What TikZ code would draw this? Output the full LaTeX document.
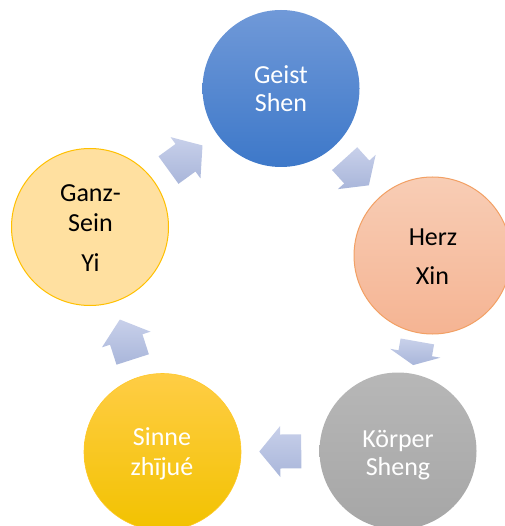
\documentclass[tikz,border=0pt]{standalone}
\usepackage{fontspec}
\setmainfont{Carlito}
\usetikzlibrary{calc}
\definecolor{arrowtop}{HTML}{C8D0EA}
\definecolor{arrowbot}{HTML}{A9B6DA}
\tikzset{
  bubble/.style={circle, minimum size=157pt, inner sep=0pt},
  txt/.style={anchor=base, inner sep=0pt, font=\fontsize{26}{28}\selectfont},
  arrowstyle/.style={top color=arrowtop, bottom color=arrowbot, draw=none}
}
\newcommand\cycarrow[4]{%
  \coordinate (#4m) at ($(#1)!0.5!(#2)$);
  \coordinate (#4b) at ($(#4m)!#3!180:(#2)$);
  \shade[arrowstyle] ($(#4b)!17pt!90:(#2)$) -- ($(#4m)!17pt!90:(#2)$) -- ($(#4m)!25.5pt!90:(#2)$) -- ($(#4m)!#3!(#2)$) -- ($(#4m)!25.5pt!-90:(#2)$) -- ($(#4m)!17pt!-90:(#2)$) -- ($(#4b)!17pt!-90:(#2)$) -- cycle;
}
\begin{document}
\begin{tikzpicture}[x=1pt,y=-1pt]
\useasboundingbox (0,0) rectangle (504,526);
% circles
\node[bubble, top color={rgb,255:red,112;green,153;blue,216}, bottom color={rgb,255:red,61;green,120;blue,201}] (geist) at (281,88.5) {};
\node[bubble, top color={rgb,255:red,248;green,205;blue,181}, bottom color={rgb,255:red,245;green,180;blue,147}, draw={rgb,255:red,242;green,160;blue,100}, line width=1pt] (herz) at (432.5,255.5) {};
\node[bubble, top color={rgb,255:red,183;green,183;blue,183}, bottom color={rgb,255:red,166;green,166;blue,166}] (koerper) at (398,451) {};
\node[bubble, top color={rgb,255:red,255;green,205;blue,69}, bottom color={rgb,255:red,242;green,194;blue,0}, draw={rgb,255:red,255;green,200;blue,40}, line width=0.6pt] (sinne) at (162.5,452) {};
\node[bubble, fill={rgb,255:red,255;green,224;blue,160}, draw={rgb,255:red,255;green,192;blue,0}, line width=1pt] (ganz) at (90,227) {};
% arrows
\cycarrow{ganz}{geist}{21pt}{aA}
\cycarrow{geist}{herz}{18pt}{aB}
\cycarrow{herz}{koerper}{12pt}{aC}
\cycarrow{koerper}{sinne}{21pt}{aD}
\cycarrow{sinne}{ganz}{21pt}{aE}
% texts
\node[txt, text=white] (t1) at (281,84) {Geist};
\node[txt, text=white] (t2) at (281,112) {Shen};
\node[txt, text=black] (t3) at (433,245) {Herz};
\node[txt, text=black] (t4) at (432.5,284) {Xin};
\node[txt, text=white] (t5) at (398,447) {Körper};
\node[txt, text=white] (t6) at (398,475) {Sheng};
\node[txt, text=white] (t7) at (162,445) {Sinne};
\node[txt, text=white] (t8) at (162,475) {zhījué};
\node[txt, text=black] (t9) at (90.5,202) {Ganz-};
\node[txt, text=black] (t10) at (90.5,231) {Sein};
\node[txt, text=black] (t11) at (90.5,271) {Yi};
\end{tikzpicture}
\end{document}
